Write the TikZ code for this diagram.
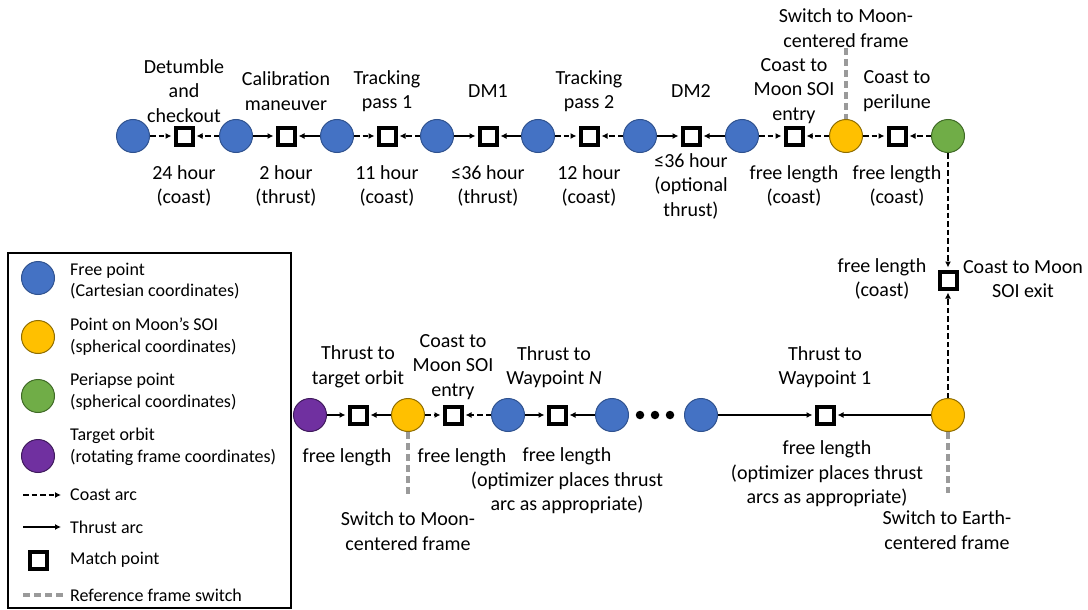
\documentclass[tikz,border=0pt]{standalone}
\usepackage{fontspec}
\setmainfont{Carlito}
\usetikzlibrary{arrows.meta}
\definecolor{cblue}{HTML}{4472C4}
\definecolor{cblueD}{HTML}{2F528F}
\definecolor{cyel}{HTML}{FFC000}
\definecolor{cyelD}{HTML}{8F6D00}
\definecolor{cgrn}{HTML}{70AD47}
\definecolor{cgrnD}{HTML}{3F6A26}
\definecolor{cpur}{HTML}{7030A0}
\definecolor{cpurD}{HTML}{3F1A5C}
\definecolor{cswitch}{HTML}{9A9A9A}
\tikzset{
  pt/.style={circle, minimum size=33pt, inner sep=0pt, line width=1pt},
  freept/.style={pt, fill=cblue, draw=cblueD},
  soipt/.style={pt, fill=cyel, draw=cyelD},
  peript/.style={pt, fill=cgrn, draw=cgrnD},
  tgtpt/.style={pt, fill=cpur, draw=cpurD},
  match/.style={rectangle, draw=black, line width=4pt, fill=white, minimum size=17pt, inner sep=0pt},
  coast/.style={line width=2pt, dash pattern=on 5.5pt off 3pt, shorten >=2pt, -{Latex[length=6pt,width=6pt]}},
  thrust/.style={line width=2pt, shorten >=2pt, -{Latex[length=6pt,width=6pt]}},
  switchline/.style={draw=cswitch, line width=3.5pt, dash pattern=on 7pt off 4pt},
  lbl/.style={font=\fontsize{20}{24.5}\selectfont, align=center, inner sep=0pt},
  leg/.style={font=\fontsize{18}{21.8}\selectfont, align=left, inner sep=0pt, anchor=west},
  dotpt/.style={circle, fill=black, minimum size=8.5pt, inner sep=0pt},
}
\begin{document}
\begin{tikzpicture}[x=1pt,y=-1pt]
\useasboundingbox (0,0) rectangle (1088,610);

% ---------- top row ----------
\node[freept] (c1) at (133,136) {};
\node[freept] (c2) at (236,136) {};
\node[freept] (c3) at (337,136) {};
\node[freept] (c4) at (437,136) {};
\node[freept] (c5) at (538,136) {};
\node[freept] (c6) at (640,136) {};
\node[freept] (c7) at (742,136) {};
\node[soipt]  (c8) at (846,136) {};
\node[peript] (c9) at (948,136) {};

\node[match] (s1) at (184,136) {};
\node[match] (s2) at (286,136) {};
\node[match] (s3) at (387,136) {};
\node[match] (s4) at (488,136) {};
\node[match] (s5) at (589,136) {};
\node[match] (s6) at (691,136) {};
\node[match] (s7) at (794,136) {};
\node[match] (s8) at (897,136) {};

\draw[coast] (c1) -- (s1); \draw[coast] (c2) -- (s1);
\draw[thrust] (c2) -- (s2); \draw[thrust] (c3) -- (s2);
\draw[coast] (c3) -- (s3); \draw[coast] (c4) -- (s3);
\draw[thrust] (c4) -- (s4); \draw[thrust] (c5) -- (s4);
\draw[coast] (c5) -- (s5); \draw[coast] (c6) -- (s5);
\draw[thrust] (c6) -- (s6); \draw[thrust] (c7) -- (s6);
\draw[coast] (c7) -- (s7); \draw[coast] (c8) -- (s7);
\draw[coast] (c8) -- (s8); \draw[coast] (c9) -- (s8);

\node[lbl] (t1) at (184,91) {Detumble\\and\\checkout};
\node[lbl] (t2) at (286,91) {Calibration\\maneuver};
\node[lbl] (t3) at (387,91) {Tracking\\pass 1};
\node[lbl] (t4) at (488,91) {DM1};
\node[lbl] (t5) at (589,91) {Tracking\\pass 2};
\node[lbl] (t6) at (691,91) {DM2};
\node[lbl] (t7) at (794,91) {Coast to\\Moon SOI\\entry};
\node[lbl] (t8) at (897,91) {Coast to\\perilune};

\node[lbl] (b1) at (184,186) {24 hour\\(coast)};
\node[lbl] (b2) at (286,186) {2 hour\\(thrust)};
\node[lbl] (b3) at (387,186) {11 hour\\(coast)};
\node[lbl] (b4) at (488,186) {≤36 hour\\(thrust)};
\node[lbl] (b5) at (589,186) {12 hour\\(coast)};
\node[lbl] (b6) at (691,186) {≤36 hour\\(optional\\thrust)};
\node[lbl] (b7) at (794,186) {free length\\(coast)};
\node[lbl] (b8) at (897,186) {free length\\(coast)};

\node[lbl] (sw1) at (846,28) {Switch to Moon-\\centered frame};
\coordinate (sw1e) at (846,48);
\draw[switchline] (sw1e) -- (c8.north);

% ---------- right column ----------
\node[match] (sv) at (948,280) {};
\node[soipt] (y2) at (948,415) {};
\draw[coast] (c9) -- (sv);
\draw[coast] (y2) -- (sv);
\node[lbl] (v1) at (882,279) {free length\\(coast)};
\node[lbl] (v2) at (1023,279) {Coast to Moon\\SOI exit};

% ---------- bottom row ----------
\node[match] (w1) at (825,415) {};
\node[freept] (d1) at (701,415) {};
\node[dotpt] (dot1) at (640,415) {};
\node[dotpt] (dot2) at (655,415) {};
\node[dotpt] (dot3) at (670,415) {};
\node[freept] (d2) at (612,415) {};
\node[match] (wn) at (557,415) {};
\node[freept] (d3) at (508,415) {};
\node[match] (we) at (453,415) {};
\node[soipt] (y3) at (408,415) {};
\node[match] (wt) at (358,415) {};
\node[tgtpt] (p1) at (310,415) {};

\draw[thrust] (y2) -- (w1); \draw[thrust] (d1) -- (w1);
\draw[thrust] (d2) -- (wn); \draw[thrust] (d3) -- (wn);
\draw[coast] (d3) -- (we); \draw[coast] (y3) -- (we);
\draw[thrust] (y3) -- (wt); \draw[thrust] (p1) -- (wt);

\node[lbl] (u1) at (358,367) {Thrust to\\target orbit};
\node[lbl] (u2) at (453,367) {Coast to\\Moon SOI\\entry};
\node[lbl] (u3) at (554,367) {Thrust to\\Waypoint \textit{N}};
\node[lbl] (u4) at (825,367) {Thrust to\\Waypoint 1};

\node[lbl] (l1) at (347,457) {free length};
\node[lbl] (l2) at (462,457) {free length};
\node[lbl] (l3) at (567,481) {free length\\(optimizer places thrust\\arc as appropriate)};
\node[lbl] (l4) at (827,474) {free length\\(optimizer places thrust\\arcs as appropriate)};

\coordinate (sw2e) at (408,495);
\draw[switchline] (y3.south) -- (sw2e);
\node[lbl] (sw2) at (408,531) {Switch to Moon-\\centered frame};
\coordinate (sw3e) at (948,493);
\draw[switchline] (y2.south) -- (sw3e);
\node[lbl] (sw3) at (947,530) {Switch to Earth-\\centered frame};

% ---------- legend ----------
\node[draw=black, line width=1.5pt, minimum width=283pt, minimum height=355pt, inner sep=0pt, anchor=north west] (legbox) at (7,252) {};
\node[freept] (lg1) at (38,278) {};
\node[leg] (lt1) at (70,281) {Free point\\(Cartesian coordinates)};
\node[soipt] (lg2) at (38,337) {};
\node[leg] (lt2) at (70,337) {Point on Moon’s SOI\\(spherical coordinates)};
\node[peript] (lg3) at (38,396) {};
\node[leg] (lt3) at (70,392) {Periapse point\\(spherical coordinates)};
\node[tgtpt] (lg4) at (38,456) {};
\node[leg] (lt4) at (70,447) {Target orbit\\(rotating frame coordinates)};
\coordinate (la1) at (23,495); \coordinate (lb1) at (63,495);
\draw[coast] (la1) -- (lb1);
\node[leg] (lt5) at (70,495) {Coast arc};
\coordinate (la2) at (23,527); \coordinate (lb2) at (63,527);
\draw[thrust] (la2) -- (lb2);
\node[leg] (lt6) at (70,527) {Thrust arc};
\node[match] (lg7) at (38,560) {};
\node[leg] (lt7) at (70,560) {Match point};
\coordinate (la3) at (23,595); \coordinate (lb3) at (63,595);
\draw[switchline] (la3) -- (lb3);
\node[leg] (lt8) at (70,595) {Reference frame switch};
\end{tikzpicture}
\end{document}
